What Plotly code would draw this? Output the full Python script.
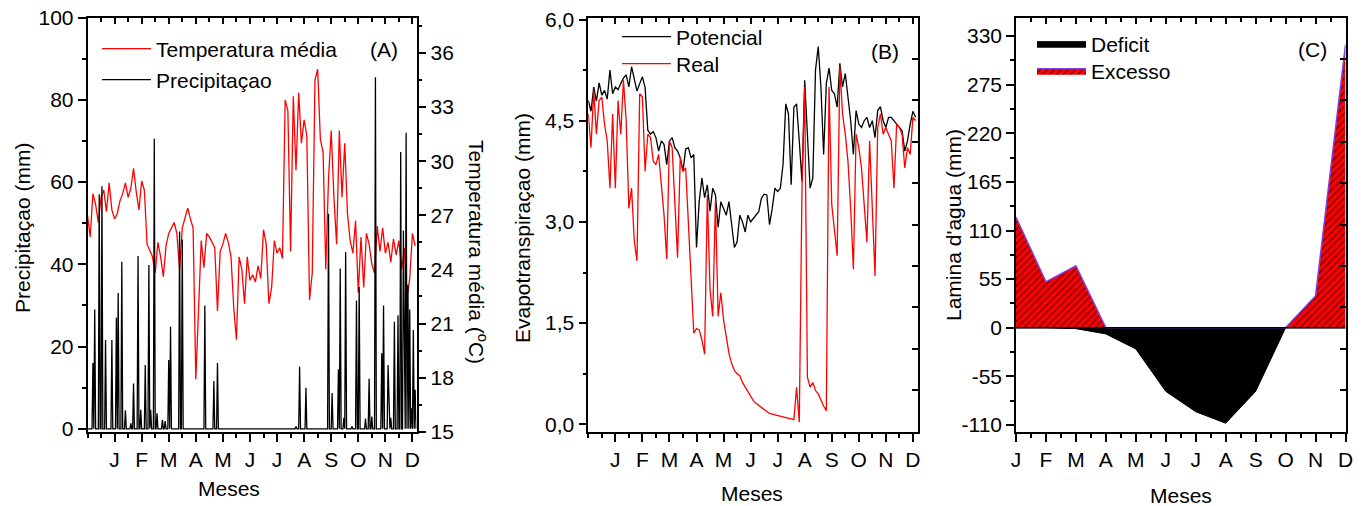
import numpy as np
import plotly.graph_objects as go

FONT = "Liberation Sans, Arial, Helvetica, sans-serif"
W, H = 1367, 506

# ---------------- data ----------------
MONTHS = ["J", "F", "M", "A", "M", "J", "J", "A", "S", "O", "N", "D"]

# Panel A: mean temperature (deg C), one reading every 0.1 month
temp_step_month = 0.1
temperatura_media = [
    27.0, 25.8, 28.2, 27.6, 26.6, 28.0, 28.4, 27.2, 28.8, 27.3,
    26.8, 27.1, 27.8, 28.2, 28.8, 28.0, 28.5, 29.6, 28.3, 27.3,
    28.9, 28.4, 25.4, 25.0, 24.7, 23.8, 25.5, 24.7, 23.6, 25.3,
    26.0, 26.3, 26.6, 26.0, 24.0, 26.3, 26.9, 27.4, 26.8, 26.3,
    17.9, 22.3, 25.6, 24.1, 26.0, 25.8, 25.5, 25.2, 21.7, 25.0,
    25.4, 26.0, 25.5, 24.7, 21.9, 20.1, 24.7, 24.0, 22.1, 24.7,
    23.4, 23.7, 23.3, 24.2, 23.5, 26.2, 25.4, 22.1, 23.0, 25.6,
    24.9, 25.2, 24.6, 33.4, 32.8, 25.0, 33.6, 29.5, 33.8, 31.0,
    32.3, 31.4, 22.3, 23.8, 34.5, 35.1, 31.2, 30.5, 24.0, 29.0,
    31.7, 28.0, 25.4, 31.7, 28.0, 31.0, 27.1, 25.6, 24.9, 26.7,
    22.7, 25.8, 23.0, 26.0, 25.4, 24.3, 23.8, 26.4, 25.0, 26.3,
    24.9, 25.5, 24.4, 25.7, 24.8, 25.6, 24.0, 25.2, 22.4, 23.5,
    26.0, 25.3,
]

# Panel A: daily precipitation (mm); days without rain are 0
days_per_month = 30
n_days = 365
rain_day = [6, 8, 13, 16, 20, 27, 32, 34, 38, 42,
            48, 51, 56, 59, 64, 68, 70, 74, 77, 83,
            86, 90, 92, 102, 105, 130, 140, 144, 231, 235,
            242, 267, 271, 278, 280, 284, 286, 293, 298, 301,
            308, 312, 315, 319, 326, 328, 333, 334, 336, 340,
            344, 347, 350, 351, 353, 355, 357, 359, 361, 363]
rain_mm = [16, 29, 57, 59, 21.6, 21.6, 27, 33, 40.6, 4.5,
           1.3, 11, 42, 4.6, 15.5, 39.8, 4.6, 70.5, 3.8, 2.2,
           1.9, 16.7, 24.8, 48, 46, 30, 11.6, 16, 0.6, 15.1,
           10, 52.3, 8.7, 14.5, 39, 2.7, 43, 0.6, 31.2, 34.5,
           2.5, 12.2, 3, 85.5, 18.4, 30, 15.5, 4.6, 2.7, 26,
           27.6, 67.3, 48.2, 8, 72, 35, 29, 5, 24, 9.5]

# Panel B: evapotranspiration (mm), one reading every 0.1 month
et_step_month = 0.1
et_potencial = [
    4.8, 4.64, 5.0, 4.79, 5.06, 4.88, 4.95, 4.82, 5.25, 4.9,
    5.0, 4.96, 5.05, 5.13, 5.18, 5.0, 5.3, 5.1, 4.94, 5.05,
    5.15, 4.99, 4.36, 4.3, 4.34, 4.25, 4.05, 4.2, 4.15, 3.85,
    4.2, 4.25, 4.1, 4.05, 3.95, 3.75, 4.08, 4.1, 3.95, 4.0,
    2.62, 3.3, 3.65, 3.36, 3.55, 3.16, 3.5, 3.4, 2.92, 3.3,
    3.2, 3.1, 3.3, 3.0, 2.62, 2.7, 3.1, 3.0, 2.85, 3.1,
    3.0, 3.05, 3.1, 3.15, 3.35, 3.41, 3.4, 2.96, 3.2, 3.5,
    3.45, 3.5, 3.85, 4.75, 4.6, 3.55, 4.7, 4.75, 4.2, 3.6,
    5.1, 4.3, 3.5, 3.65, 5.25, 5.6, 5.0, 4.0, 5.05, 5.28,
    4.95, 4.9, 4.7, 5.35, 5.0, 5.2, 4.84, 4.5, 4.0, 4.65,
    4.45, 4.4, 4.5, 4.55, 4.4, 4.5, 4.25, 4.65, 4.71, 4.5,
    4.4, 4.55, 4.55, 4.5, 4.45, 4.4, 4.35, 4.05, 4.2, 4.45,
    4.64, 4.55,
]
et_real = [
    4.6, 4.1, 4.95, 4.3, 4.8, 4.85, 4.45, 4.2, 3.5, 4.6,
    3.5, 4.8, 4.3, 5.1, 4.5, 3.2, 3.5, 2.72, 2.42, 4.9,
    4.85, 3.75, 4.3, 4.25, 3.9, 3.85, 4.0, 3.6, 3.1, 2.45,
    4.2, 4.1, 3.2, 2.47, 3.95, 3.75, 3.8, 2.96, 2.2, 1.35,
    1.42, 1.4, 1.25, 1.04, 3.4, 2.0, 1.6, 3.3, 1.6, 1.95,
    1.55, 1.3, 1.05, 0.9, 0.8, 0.75, 0.72, 0.62, 0.55, 0.47,
    0.4, 0.35, 0.31, 0.28, 0.25, 0.22, 0.18, 0.16, 0.15, 0.14,
    0.13, 0.11, 0.1, 0.09, 0.08, 0.07, 0.07, 0.55, 0.03, 3.5,
    5.0, 0.7, 0.55, 0.62, 0.5, 0.45, 0.35, 0.27, 0.2, 5.0,
    3.26, 2.87, 2.5, 5.3, 4.6, 4.3, 3.9, 3.2, 2.3, 4.3,
    4.1, 3.8, 3.3, 2.7, 4.2, 3.2, 2.2, 4.4, 4.6, 4.3,
    4.4, 4.3, 4.2, 3.5, 4.45, 4.4, 4.3, 3.8, 4.1, 4.0,
    4.55, 4.5,
]

# Panel C: monthly water balance (mm)
meses_c = list(range(1, 13))
excesso = [125, 52, 70, 0, 0, 0, 0, 0, 0, 0, 36, 320]
deficit = [0, 0, -1, -7, -24, -72, -95, -108, -72, 0, 0, 0]

# tick labels
b_tick_vals = [0, 1.5, 3.0, 4.5, 6.0]
b_tick_text = ["0,0", "1,5", "3,0", "4,5", "6,0"]
c_tick_vals = [-110, -55, 0, 55, 110, 165, 220, 275, 330]
c_tick_text = ["-110", "-55", "0", "55", "110", "165", "220", "275", "330"]

# ---------------- derived series ----------------
temp_x = np.arange(len(temperatura_media)) * temp_step_month
precip = np.zeros(n_days)
precip[rain_day] = rain_mm
rain_x = np.arange(n_days) / days_per_month
et_x = np.arange(len(et_potencial)) * et_step_month

# ---------------- layout helpers ----------------
def px_x(v):
    return v / W


def px_y(v):
    return 1 - v / H


Y_DOM = [px_y(431.7), px_y(17.5)]
A_DOM = [px_x(87.5), px_x(416.5)]
B_DOM = [px_x(588.3), px_x(918.3)]
C_DOM = [px_x(1016), px_x(1345.5)]

TICKFONT = dict(family=FONT, size=21, color="black")


def base_axis(**kw):
    d = dict(showline=True, linecolor="black", linewidth=1.6, showgrid=False,
             zeroline=False, ticks="outside", ticklen=8, tickwidth=1.5,
             tickcolor="black", tickfont=TICKFONT, automargin=False,
             fixedrange=True)
    d.update(kw)
    return d


def minor_out(vals):
    return dict(ticks="outside", ticklen=4, tickwidth=1.5, tickcolor="black",
                tickmode="array", tickvals=vals)


def inside_axis(**kw):
    d = dict(showline=False, showgrid=False, zeroline=False, ticks="inside",
             ticklen=6, tickwidth=1.5, tickcolor="black", showticklabels=False,
             automargin=False, fixedrange=True)
    d.update(kw)
    return d


def minor_in(vals):
    return dict(ticks="inside", ticklen=4, tickwidth=1.5, tickcolor="black",
                tickmode="array", tickvals=vals)


month_ticks_ab = list(range(1, 13))
minor_ab = [0] + [k + 0.5 for k in range(12)]
half_c = [k + 0.5 for k in range(1, 12)]

fig = go.Figure()

# Panel A
fig.add_trace(go.Scatter(x=temp_x, y=temperatura_media, xaxis="x", yaxis="y",
                         mode="lines", line=dict(color="#ff0000", width=1.3),
                         name="Temperatura média", legend="legend"))
fig.add_trace(go.Scatter(x=rain_x, y=precip, xaxis="x", yaxis="y2",
                         mode="lines", line=dict(color="black", width=1.3),
                         name="Precipitaçao", legend="legend4"))

# Panel B
fig.add_trace(go.Scatter(x=et_x, y=et_potencial, xaxis="x2", yaxis="y3",
                         mode="lines", line=dict(color="black", width=1.3),
                         name="Potencial", legend="legend2"))
fig.add_trace(go.Scatter(x=et_x, y=et_real, xaxis="x2", yaxis="y3",
                         mode="lines", line=dict(color="#ff0000", width=1.3),
                         name="Real", legend="legend5"))

# Panel C
fig.add_trace(go.Scatter(x=meses_c, y=deficit, xaxis="x3", yaxis="y4",
                         mode="lines", fill="tozeroy", fillcolor="black",
                         line=dict(color="black", width=1),
                         name="Deficit", legend="legend3"))
fig.add_trace(go.Scatter(x=meses_c, y=excesso, xaxis="x3", yaxis="y4",
                         mode="lines", fill="tozeroy", fillcolor="#ff0000",
                         fillpattern=dict(shape="/", bgcolor="#ff0000",
                                          fgcolor="black", size=5,
                                          solidity=0.3),
                         line=dict(color="#7b3fe4", width=1.5),
                         name="Excesso", legend="legend6"))

# empty helper traces so that the mirrored tick axes are drawn
for xa, ya in [("x4", "y"), ("x5", "y3"), ("x2", "y5"), ("x6", "y4"), ("x3", "y6")]:
    fig.add_trace(go.Scatter(x=[], y=[], xaxis=xa, yaxis=ya, showlegend=False,
                             hoverinfo="skip"))


def legend_at(x_px, top_px):
    return dict(x=px_x(x_px), y=px_y(top_px), xanchor="left", yanchor="top",
                bgcolor="rgba(0,0,0,0)", borderwidth=0, itemwidth=49,
                font=dict(family=FONT, size=21, color="black"))


layout = dict(
    width=W, height=H,
    margin=dict(l=0, r=0, t=0, b=0),
    paper_bgcolor="white", plot_bgcolor="white",
    font=dict(family=FONT, size=21, color="black"),
    showlegend=True,
    # ---- A ----
    xaxis=base_axis(domain=A_DOM, anchor="y", range=[0, 12.15],
                    tickmode="array", tickvals=month_ticks_ab,
                    ticktext=MONTHS, mirror=True,
                    minor=minor_out(minor_ab)),
    yaxis=base_axis(domain=Y_DOM, anchor="x", side="right", range=[15, 37.97],
                    tickmode="array", tickvals=list(range(15, 37, 3)),
                    minor=minor_out([16.5 + 3 * k for k in range(8)]),
                    mirror=True),
    yaxis2=base_axis(overlaying="y", anchor="x", side="left", range=[-0.7, 100],
                     tickmode="array", tickvals=list(range(0, 101, 20)),
                     minor=minor_out(list(range(10, 100, 20)))),
    xaxis4=inside_axis(overlaying="x", anchor="y", side="top", range=[0, 12.15],
                       tickmode="array", tickvals=month_ticks_ab,
                       minor=minor_in(minor_ab)),
    # ---- B ----
    xaxis2=base_axis(domain=B_DOM, anchor="y3", range=[0, 12.2],
                     tickmode="array", tickvals=month_ticks_ab,
                     ticktext=MONTHS, mirror=True,
                     minor=minor_out(minor_ab)),
    yaxis3=base_axis(domain=Y_DOM, anchor="x2", range=[-0.11, 6.03],
                     tickmode="array", tickvals=b_tick_vals,
                     ticktext=b_tick_text, mirror=True,
                     minor=minor_out([0.75, 2.25, 3.75, 5.25])),
    xaxis5=inside_axis(overlaying="x2", anchor="y3", side="top", range=[0, 12.2],
                       tickmode="array", tickvals=month_ticks_ab,
                       minor=minor_in(minor_ab)),
    yaxis5=inside_axis(overlaying="y3", anchor="x2", side="right", range=[0, 10],
                       tickmode="array", tickvals=list(range(1, 10))),
    # ---- C ----
    xaxis3=base_axis(domain=C_DOM, anchor="y4", range=[1, 12],
                     tickmode="array", tickvals=meses_c, ticktext=MONTHS,
                     mirror=True, minor=minor_out(half_c)),
    yaxis4=base_axis(domain=Y_DOM, anchor="x3", range=[-117.6, 351],
                     tickmode="array", tickvals=c_tick_vals,
                     ticktext=c_tick_text, mirror=True,
                     minor=minor_out([-82.5 + 55 * k for k in range(8)])),
    xaxis6=inside_axis(overlaying="x3", anchor="y4", side="top", range=[1, 12],
                       tickmode="array", tickvals=meses_c,
                       minor=minor_in(half_c)),
    yaxis6=inside_axis(overlaying="y4", anchor="x3", side="right", range=[0, 10],
                       tickmode="array", tickvals=list(range(1, 10))),
    # ---- legends (one entry each, to reproduce the row spacing) ----
    legend=legend_at(97, 28.5),
    legend4=legend_at(97, 59.5),
    legend2=legend_at(617, 16.5),
    legend5=legend_at(617, 43.5),
    legend3=legend_at(1032, 23.5),
    legend6=legend_at(1032, 50.5),
    shapes=[dict(type="line", xref="x3", yref="y4", x0=1, x1=12, y0=0, y1=0,
                 line=dict(color="black", width=1.5), layer="above")],
)

ann = []


def add_text(text, x, y, angle=0, size=21):
    ann.append(dict(text=text, x=px_x(x), y=px_y(y), xref="paper", yref="paper",
                    showarrow=False, textangle=angle, xanchor="center",
                    yanchor="middle", font=dict(family=FONT, size=size,
                                                color="black")))


add_text("(A)", 384, 50)
add_text("(B)", 885, 52)
add_text("(C)", 1312, 50)
add_text("Meses", 229, 488)
add_text("Meses", 752, 493)
add_text("Meses", 1181, 495)
add_text("Precipitaçao (mm)", 22, 228, angle=-90)
add_text("Temperatura média (<sup>o</sup>C)", 478, 252, angle=90)
add_text("Evapotranspiraçao (mm)", 522, 228, angle=-90)
add_text("Lamina d'agua (mm)", 953, 225, angle=-90)
layout["annotations"] = ann

fig.update_layout(**layout)
fig.write_html(
    "out.html",
    config={"displayModeBar": False},
    post_script="document.body.style.margin='0px';"
                "document.body.style.overflow='hidden';",
)
